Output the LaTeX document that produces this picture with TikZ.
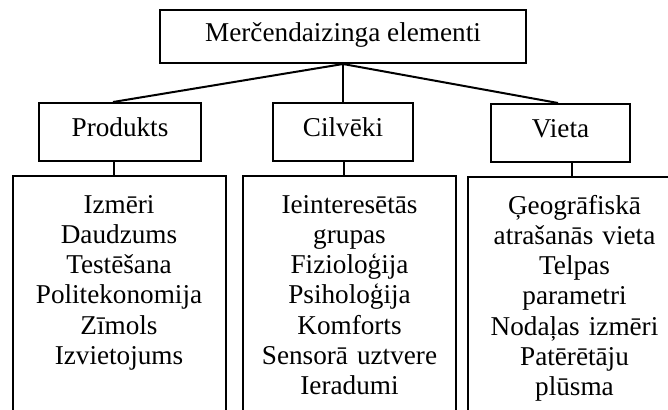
\documentclass[tikz,border=0pt]{standalone}
\usepackage{fontspec}
\setmainfont{Liberation Serif}
\usepackage{tikz}
\usetikzlibrary{positioning}

\begin{document}
\begin{tikzpicture}[
    x=0.5pt, y=-0.5pt,
    every node/.style={font=\fontsize{13.6}{15.15}\selectfont},
    headbox/.style={rectangle, draw, line width=1pt,
                    minimum height=29pt, inner sep=0pt,
                    text height=0.7em, text depth=0.21em},
    listbox/.style={rectangle, draw, line width=1pt, anchor=north,
                    text width=106.5pt, align=center, inner sep=0pt,
                    text height=18.5pt, text depth=130pt},
    link/.style={line width=1pt}
]

\path[use as bounding box] (0,0) rectangle (668,409);
\clip (0,0) rectangle (668,409);

% Top and second level
\node[headbox, minimum width=183pt, minimum height=26.5pt] (top) at (343,36.5) {Merčendaizinga elementi};
\node[headbox, minimum width=81pt] (prod) at (120,132) {Produkts};
\node[headbox, minimum width=70pt] (cilv) at (343,132) {Cilvēki};
\node[headbox, minimum width=69.5pt] (vieta) at (560.5,133) {Vieta};

% Lists (open at the bottom)
\node[listbox] (prodlist) at (119,175) {Izmēri\\Daudzums\\Testēšana\\Politekonomija\\Zīmols\\Izvietojums};
\node[listbox] (cilvlist) at (349.5,175) {Ieinteresētās\\grupas\\Fizioloģija\\Psiholoģija\\Komforts\\Sensorā uztvere\\Ieradumi};
\node[listbox] (vietalist) at (574.5,176) {Ģeogrāfiskā\\atrašanās vieta\\Telpas\\parametri\\Nodaļas izmēri\\Patērētāju\\plūsma};

% Links
\draw[link] (top.south) -- ([xshift=-3.5pt]prod.north);
\draw[link] (top.south) -- (cilv.north);
\draw[link] (top.south) -- ([xshift=-1.25pt]vieta.north);

\draw[link] ([xshift=-3pt]prod.south) -- ([xshift=-3pt]prod.south |- prodlist.north);
\draw[link] ([xshift=0.5pt]cilv.south) -- ([xshift=0.5pt]cilv.south |- cilvlist.north);
\draw[link] ([xshift=5.75pt]vieta.south) -- ([xshift=5.75pt]vieta.south |- vietalist.north);

\end{tikzpicture}
\end{document}
